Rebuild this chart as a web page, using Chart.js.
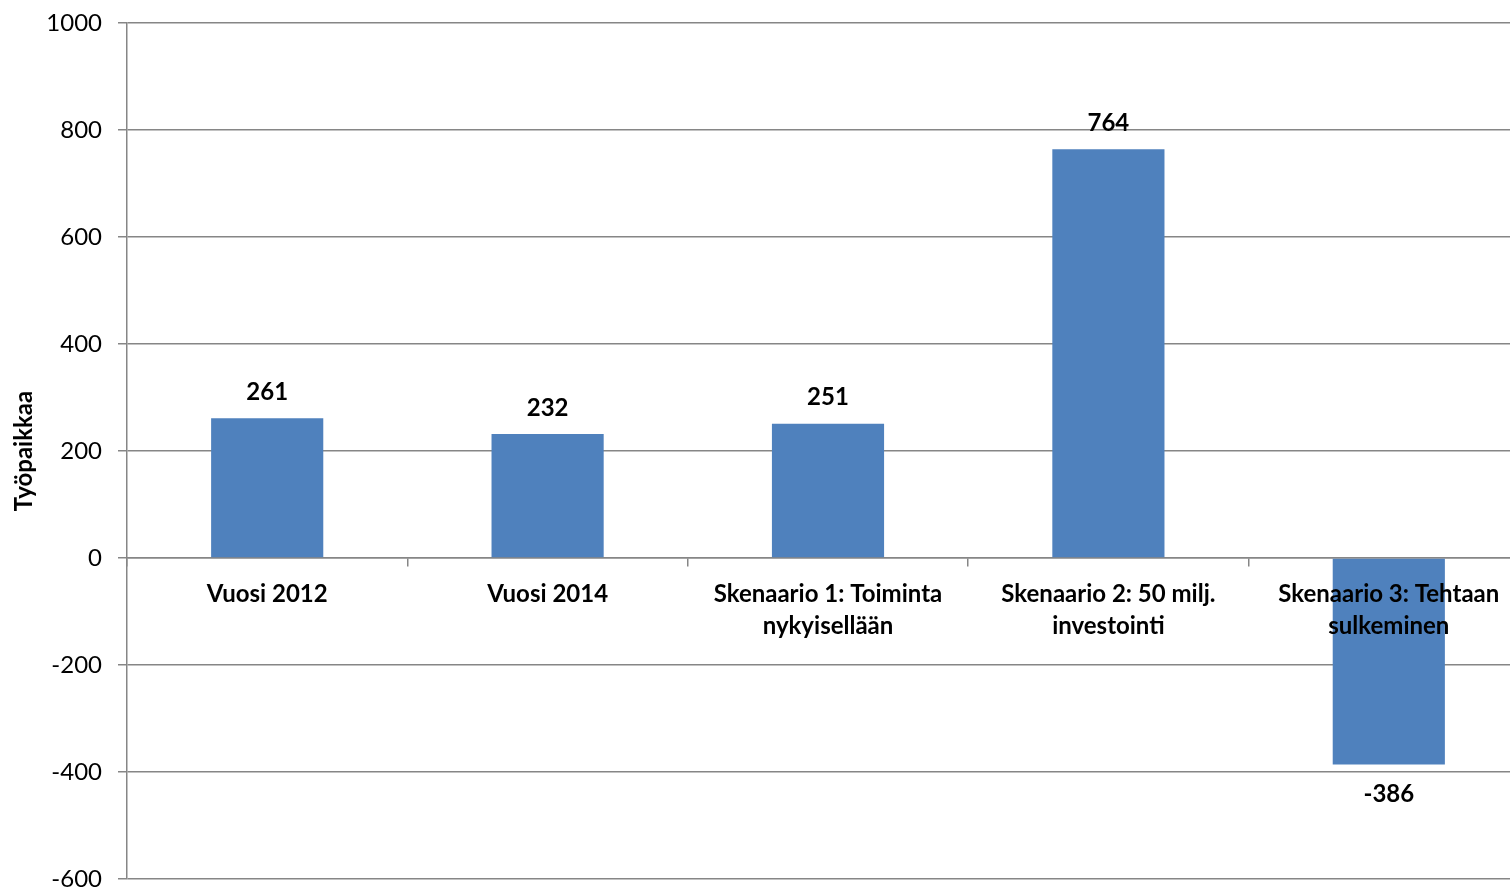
<!DOCTYPE html>
<html>
<head>
<meta charset="utf-8">
<script src="https://cdn.jsdelivr.net/npm/chart.js@4"></script>
<style>
html,body{margin:0;padding:0;background:#fff;overflow:hidden;}
#wrap{position:relative;width:1529px;height:888px;}
</style>
</head>
<body>
<div id="wrap"><canvas id="c"></canvas></div>
<script>
const categories = [
  ["Vuosi 2012"],
  ["Vuosi 2014"],
  ["Skenaario 1: Toiminta", "nykyisellään"],
  ["Skenaario 2: 50 milj.", "investointi"],
  ["Skenaario 3: Tehtaan", "sulkeminen"]
];
const values = [261, 232, 251, 764, -386];
const yTitle = "Työpaikkaa";
const yMin = -600, yMax = 1000, yStep = 200;

const FONT = "Lato, 'Open Sans', sans-serif";
const GRID = "#868686";

const valueLabels = {
  id: 'valueLabels',
  afterDatasetsDraw(chart) {
    const ctx = chart.ctx;
    const meta = chart.getDatasetMeta(0);
    ctx.save();
    ctx.font = "bold 24px " + FONT;
    ctx.fillStyle = "#000";
    ctx.textAlign = "center";
    ctx.textBaseline = "middle";
    meta.data.forEach((bar, i) => {
      const v = values[i];
      const y = v >= 0 ? bar.y - 26 : bar.y + 30;
      ctx.fillText(String(v), bar.x, y);
    });
    ctx.restore();
  }
};

new Chart(document.getElementById('c'), {
  type: 'bar',
  data: {
    labels: categories,
    datasets: [{
      data: values,
      backgroundColor: "#4F81BD",
      borderWidth: 0,
      barPercentage: 0.4,
      categoryPercentage: 1.0
    }]
  },
  options: {
    responsive: true,
    maintainAspectRatio: false,
    animation: false,
    layout: { padding: { top: 23, bottom: 9, left: 0, right: 0 } },
    plugins: { legend: { display: false }, tooltip: { enabled: false } },
    scales: {
      x: {
        position: { y: 0 },
        afterFit(scale) { scale.paddingLeft = 0; scale.paddingRight = 0; scale.paddingTop = 0; scale.paddingBottom = 0; },
        grid: { display: true, drawOnChartArea: false, drawTicks: true, tickLength: 8, color: GRID, lineWidth: 1.5, offset: true },
        border: { display: true, color: GRID, width: 1.5 },
        ticks: { z: 1, color: "#000", font: { family: FONT, size: 24, weight: "bold", lineHeight: 1.33 }, padding: 12, maxRotation: 0, autoSkip: false }
      },
      y: {
        min: yMin, max: yMax,
        afterFit(scale) { scale.width = 127; scale.paddingTop = 0; scale.paddingBottom = 0; },
        ticks: { stepSize: yStep, color: "#000", font: { family: FONT, size: 24 }, padding: 16, callback: (v) => String(v) },
        grid: { color: GRID, tickLength: 9, lineWidth: 1.5 },
        border: { display: true, color: GRID, width: 1.5 },
        title: { display: true, text: yTitle, color: "#000", font: { family: FONT, size: 24, weight: "bold" }, padding: { top: 10, bottom: 0 } }
      }
    }
  },
  plugins: [valueLabels]
});
</script>
</body>
</html>
